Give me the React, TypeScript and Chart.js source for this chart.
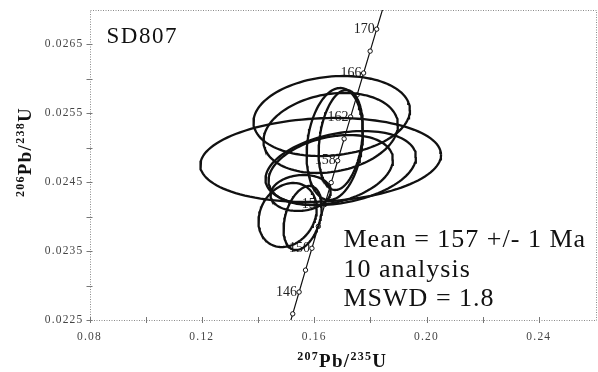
import React, { useEffect, useRef } from "react";
import { Chart, registerables } from "chart.js";

Chart.register(...registerables);

// Axis ranges and ticks
const X_MIN = 0.08;
const X_MAX = 0.26;
const Y_MIN = 0.0225;
const Y_MAX = 0.027;
const xTickValues = [0.08, 0.1, 0.12, 0.14, 0.16, 0.18, 0.2, 0.22, 0.24];
const xTickLabels = ["0.08", "", "0.12", "", "0.16", "", "0.20", "", "0.24"];
const yTickValues = [0.0225, 0.023, 0.0235, 0.024, 0.0245, 0.025, 0.0255, 0.026, 0.0265];
const yTickLabels = ["0.0225", "", "0.0235", "", "0.0245", "", "0.0255", "", "0.0265"];

// Concordia (age in Ma, 207Pb/235U, 206Pb/238U)
const concAges = [142, 144, 146, 148, 150, 152, 154, 156, 158, 160, 162, 164, 166, 168, 170, 172, 174];
const concX = [0.150099, 0.152367, 0.154639, 0.156916, 0.159197, 0.161483, 0.163773, 0.166068, 0.168367, 0.170671, 0.172979, 0.175292, 0.17761, 0.179932, 0.182258, 0.18459, 0.186926];
const concY = [0.022272, 0.022589, 0.022906, 0.023224, 0.023541, 0.023859, 0.024177, 0.024494, 0.024812, 0.02513, 0.025448, 0.025767, 0.026085, 0.026403, 0.026722, 0.02704, 0.027359];
const concMarkerAges = [144, 146, 148, 150, 152, 154, 156, 158, 160, 162, 164, 166, 168, 170, 172];
const concLabelAges = [146, 150, 154, 158, 162, 166, 170];

// Analyses (error ellipses): centre, half-widths and correlation
const ellX = [0.16232, 0.16625, 0.16946, 0.16589, 0.16589, 0.16732, 0.16946, 0.15054, 0.15589, 0.15518];
const ellY = [0.024823, 0.025461, 0.024706, 0.024677, 0.025215, 0.025055, 0.025113, 0.024024, 0.023981, 0.024344];
const ellSx = [0.04286, 0.02786, 0.02679, 0.02214, 0.02393, 0.01, 0.00786, 0.01036, 0.00679, 0.01071];
const ellSy = [0.00061, 0.000581, 0.000537, 0.000508, 0.000581, 0.000813, 0.000726, 0.000465, 0.000465, 0.000261];
const ellRho = [0.12, 0.15, 0.3, 0.3, 0.2, 0.2, 0.25, 0.2, 0.35, 0.1];

const annotationLines = ["Mean = 157 +/- 1 Ma", "10 analysis", "MSWD = 1.8"];
const sampleName = "SD807";

const SERIF = '"Liberation Serif", "Times New Roman", serif';

function ellipsePoints(i: number) {
  const pts: { x: number; y: number }[] = [];
  const n = 120;
  const s = Math.sqrt(1 - ellRho[i] * ellRho[i]);
  for (let k = 0; k <= n; k++) {
    const t = (2 * Math.PI * k) / n;
    pts.push({
      x: ellX[i] + ellSx[i] * Math.cos(t),
      y: ellY[i] + ellSy[i] * (ellRho[i] * Math.cos(t) + s * Math.sin(t)),
    });
  }
  return pts;
}

function drawRich(
  ctx: CanvasRenderingContext2D,
  parts: { t: string; sup: boolean }[],
  cx: number,
  baseline: number,
  bigSize: number,
  smallSize: number,
  spacing: number
) {
  ctx.save();
  (ctx as any).letterSpacing = spacing + "px";
  let total = 0;
  const widths: number[] = [];
  for (const p of parts) {
    ctx.font = `bold ${p.sup ? smallSize : bigSize}px ${SERIF}`;
    const w = ctx.measureText(p.t).width;
    widths.push(w);
    total += w;
  }
  let x = cx - total / 2;
  ctx.textAlign = "left";
  ctx.textBaseline = "alphabetic";
  parts.forEach((p, i) => {
    ctx.font = `bold ${p.sup ? smallSize : bigSize}px ${SERIF}`;
    ctx.fillText(p.t, x, p.sup ? baseline - bigSize * 0.38 : baseline);
    x += widths[i];
  });
  ctx.restore();
}

const decorPlugin = {
  id: "decor",
  beforeDatasetsDraw(chart: any) {
    const { ctx, chartArea } = chart;
    const xs = chart.scales.x;
    const ys = chart.scales.y;
    ctx.save();
    // dotted frame
    ctx.strokeStyle = "#8a8a8a";
    ctx.lineWidth = 1;
    ctx.setLineDash([1, 1.5]);
    ctx.strokeRect(
      Math.round(chartArea.left) + 0.5,
      Math.round(chartArea.top) + 0.5,
      Math.round(chartArea.right - chartArea.left),
      Math.round(chartArea.bottom - chartArea.top)
    );
    ctx.setLineDash([]);
    // concordia age labels
    ctx.fillStyle = "#222";
    ctx.font = `14px ${SERIF}`;
    ctx.textAlign = "right";
    ctx.textBaseline = "middle";
    concLabelAges.forEach((age) => {
      const idx = concAges.indexOf(age);
      const px = xs.getPixelForValue(concX[idx]);
      const py = ys.getPixelForValue(concY[idx]);
      ctx.fillText(String(age), px - 2, py);
    });
    ctx.restore();
  },
  afterDraw(chart: any) {
    const { ctx, chartArea } = chart;
    const xs = chart.scales.x;
    const ys = chart.scales.y;
    ctx.save();
    // ticks
    ctx.strokeStyle = "#777";
    ctx.lineWidth = 1;
    xTickValues.forEach((v) => {
      const px = Math.round(xs.getPixelForValue(v)) + 0.5;
      ctx.beginPath();
      ctx.moveTo(px, chartArea.bottom - 3);
      ctx.lineTo(px, chartArea.bottom + 3);
      ctx.stroke();
    });
    yTickValues.forEach((v) => {
      const py = Math.round(ys.getPixelForValue(v)) + 0.5;
      ctx.beginPath();
      ctx.moveTo(chartArea.left - 3, py);
      ctx.lineTo(chartArea.left + 3, py);
      ctx.stroke();
    });
    // tick labels
    (ctx as any).letterSpacing = "1.2px";
    ctx.fillStyle = "#444";
    ctx.font = `11.5px ${SERIF}`;
    ctx.textAlign = "center";
    ctx.textBaseline = "middle";
    xTickValues.forEach((v, i) => {
      if (!xTickLabels[i]) return;
      ctx.fillText(xTickLabels[i], xs.getPixelForValue(v), chartArea.bottom + 17);
    });
    ctx.textAlign = "right";
    yTickValues.forEach((v, i) => {
      if (!yTickLabels[i]) return;
      ctx.fillText(yTickLabels[i], chartArea.left - 6, ys.getPixelForValue(v));
    });
    (ctx as any).letterSpacing = "0px";
    ctx.fillStyle = "#111";
    // x axis title
    drawRich(
      ctx,
      [
        { t: "207", sup: true },
        { t: "Pb/", sup: false },
        { t: "235", sup: true },
        { t: "U", sup: false },
      ],
      (chartArea.left + chartArea.right) / 2,
      367,
      19,
      12,
      1.3
    );
    // y axis title
    ctx.save();
    ctx.translate(31, 152);
    ctx.rotate(-Math.PI / 2);
    drawRich(
      ctx,
      [
        { t: "206", sup: true },
        { t: "Pb/", sup: false },
        { t: "238", sup: true },
        { t: "U", sup: false },
      ],
      0,
      0,
      19,
      12,
      1.3
    );
    ctx.restore();
    // sample name
    ctx.fillStyle = "#111";
    (ctx as any).letterSpacing = "1.5px";
    ctx.font = `23px ${SERIF}`;
    ctx.textAlign = "left";
    ctx.textBaseline = "alphabetic";
    ctx.fillText(sampleName, chartArea.left + 17, chartArea.top + 33);
    // statistics
    (ctx as any).letterSpacing = "1px";
    ctx.font = `26px ${SERIF}`;
    annotationLines.forEach((line, i) => {
      ctx.fillText(line, chartArea.left + 254, chartArea.top + 237 + i * 29.5);
    });
    ctx.restore();
  },
};

export default function App() {
  const canvasRef = useRef<HTMLCanvasElement | null>(null);

  useEffect(() => {
    const canvas = canvasRef.current;
    if (!canvas) return;
    const ellipseSets = ellX.map((_, i) => ({
      data: ellipsePoints(i),
      showLine: true,
      borderColor: "#111",
      borderWidth: 2.3,
      pointRadius: 0,
      tension: 0,
      fill: false,
    }));
    const concData = concAges.map((a, i) => ({ x: concX[i], y: concY[i] }));
    const concRadius = concAges.map((a) => (concMarkerAges.includes(a) ? 2.2 : 0));
    const chart = new Chart(canvas, {
      type: "scatter",
      data: {
        datasets: [
          ...ellipseSets,
          {
            data: concData,
            showLine: true,
            borderColor: "#111",
            borderWidth: 1.2,
            pointRadius: concRadius,
            pointBackgroundColor: "#fff",
            pointBorderColor: "#111",
            pointBorderWidth: 1,
            tension: 0,
            fill: false,
          },
        ],
      } as any,
      options: {
        animation: false,
        responsive: false,
        maintainAspectRatio: false,
        layout: { padding: { top: 10, right: 3, left: 0, bottom: 0 } },
        plugins: { legend: { display: false }, tooltip: { enabled: false } },
        scales: {
          x: {
            type: "linear",
            min: X_MIN,
            max: X_MAX,
            grid: { display: false },
            border: { display: false },
            ticks: { display: false },
            afterFit: (s: any) => {
              s.height = 52;
            },
          },
          y: {
            type: "linear",
            min: Y_MIN,
            max: Y_MAX,
            grid: { display: false },
            border: { display: false },
            ticks: { display: false },
            afterFit: (s: any) => {
              s.width = 89.5;
            },
          },
        },
      } as any,
      plugins: [decorPlugin],
    });
    return () => chart.destroy();
  }, []);

  return (
    <div style={{ position: "fixed", left: 0, top: 0, width: 598, height: 372, background: "#fff" }}>
      <canvas ref={canvasRef} width={598} height={372} style={{ display: "block" }} />
    </div>
  );
}
